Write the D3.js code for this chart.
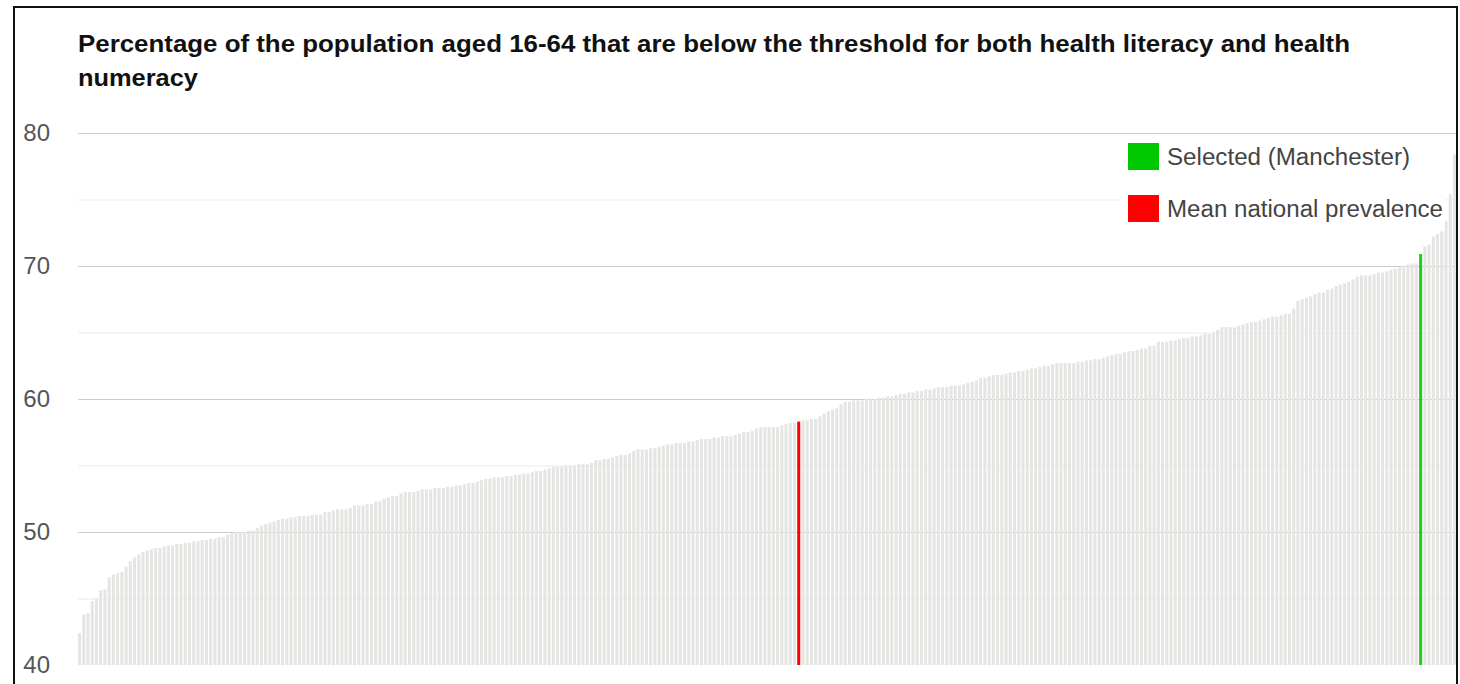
<!DOCTYPE html>
<html>
<head>
<meta charset="utf-8">
<script src="https://cdn.jsdelivr.net/npm/d3@7"></script>
<style>
  body { margin: 0; background: #fff; }
  svg { display: block; }
</style>
</head>
<body>
<div id="chart"></div>
<script>
// Values, sorted ascending (one per local authority)
const barValues = [
  42.4, 43.8, 43.9, 44.8, 45.0, 45.6, 45.7, 46.6, 46.8, 46.9,
  47.0, 47.4, 47.8, 48.1, 48.3, 48.5, 48.6, 48.7, 48.8, 48.8,
  48.9, 49.0, 49.0, 49.1, 49.1, 49.2, 49.2, 49.3, 49.3, 49.4,
  49.4, 49.5, 49.5, 49.6, 49.6, 49.8, 49.9, 50.0, 50.0, 50.0,
  50.1, 50.1, 50.3, 50.5, 50.6, 50.7, 50.8, 50.9, 51.0, 51.0,
  51.1, 51.1, 51.2, 51.2, 51.2, 51.3, 51.3, 51.3, 51.5, 51.5,
  51.6, 51.7, 51.7, 51.7, 51.8, 52.0, 52.0, 52.0, 52.1, 52.1,
  52.3, 52.3, 52.5, 52.6, 52.7, 52.7, 52.9, 53.0, 53.0, 53.0,
  53.1, 53.2, 53.2, 53.2, 53.3, 53.3, 53.3, 53.4, 53.4, 53.5,
  53.5, 53.6, 53.7, 53.7, 53.8, 53.9, 54.0, 54.0, 54.1, 54.1,
  54.1, 54.2, 54.2, 54.3, 54.3, 54.4, 54.4, 54.5, 54.6, 54.6,
  54.7, 54.8, 54.9, 54.9, 54.9, 55.0, 55.0, 55.0, 55.1, 55.1,
  55.1, 55.2, 55.4, 55.4, 55.5, 55.5, 55.6, 55.7, 55.8, 55.8,
  55.9, 56.1, 56.2, 56.2, 56.2, 56.3, 56.3, 56.4, 56.5, 56.6,
  56.6, 56.7, 56.7, 56.7, 56.8, 56.8, 56.9, 57.0, 57.0, 57.0,
  57.1, 57.1, 57.2, 57.2, 57.2, 57.3, 57.4, 57.5, 57.5, 57.6,
  57.8, 57.9, 57.9, 57.9, 57.9, 57.9, 58.0, 58.1, 58.2, 58.2,
  58.3, 58.4, 58.4, 58.5, 58.5, 58.7, 58.9, 59.1, 59.2, 59.3,
  59.6, 59.8, 59.8, 59.9, 59.9, 59.9, 60.0, 60.0, 60.0, 60.1,
  60.1, 60.2, 60.2, 60.3, 60.4, 60.4, 60.5, 60.5, 60.6, 60.6,
  60.7, 60.7, 60.8, 60.9, 60.9, 60.9, 61.0, 61.0, 61.0, 61.1,
  61.2, 61.3, 61.4, 61.6, 61.6, 61.7, 61.8, 61.8, 61.8, 61.9,
  62.0, 62.0, 62.1, 62.1, 62.2, 62.3, 62.3, 62.4, 62.5, 62.5,
  62.6, 62.7, 62.7, 62.7, 62.7, 62.7, 62.8, 62.8, 62.9, 62.9,
  63.0, 63.0, 63.1, 63.2, 63.3, 63.4, 63.4, 63.5, 63.6, 63.6,
  63.7, 63.8, 63.8, 64.0, 64.0, 64.3, 64.3, 64.3, 64.4, 64.4,
  64.5, 64.6, 64.6, 64.7, 64.7, 64.8, 64.9, 64.9, 65.0, 65.2,
  65.4, 65.4, 65.4, 65.4, 65.5, 65.6, 65.7, 65.8, 65.8, 65.9,
  66.0, 66.1, 66.2, 66.2, 66.3, 66.4, 66.4, 66.8, 67.4, 67.5,
  67.6, 67.7, 67.9, 68.0, 68.0, 68.2, 68.3, 68.5, 68.6, 68.7,
  68.8, 69.0, 69.2, 69.3, 69.3, 69.3, 69.4, 69.5, 69.5, 69.6,
  69.7, 69.8, 69.9, 70.0, 70.1, 70.2, 70.2, 70.9, 71.5, 71.6,
  72.2, 72.4, 72.6, 73.4, 75.4, 78.4
];

// Position of the highlighted bars in the sorted list
const meanIndex = 170;       // mean national prevalence
const selectedIndex = 317;   // Manchester

const majorTicks = [40, 50, 60, 70, 80];
const minorTicks = [45, 55, 65, 75];

const legendItems = [
  { label: "Selected (Manchester)", color: "#00c800", textWidth: 243 },
  { label: "Mean national prevalence", color: "#ff0000", textWidth: 276 }
];

const titleLines = [
  { text: "Percentage of the population aged 16-64 that are below the threshold for both health literacy and health", textWidth: 1272 },
  { text: "numeracy", textWidth: 120 }
];

const width = 1460, height = 684;
const plot = { left: 78, right: 1456, top: 133, bottom: 665 };

const svg = d3.select("#chart").append("svg")
  .attr("width", width)
  .attr("height", height);

// outer frame
svg.append("rect")
  .attr("x", 14).attr("y", 7)
  .attr("width", 1443).attr("height", 720)
  .attr("fill", "none")
  .attr("stroke", "#111")
  .attr("stroke-width", 2);

// title
svg.append("g").selectAll("text")
  .data(titleLines)
  .join("text")
  .attr("x", 78)
  .attr("y", (d, i) => 52 + i * 34)
  .attr("fill", "#111")
  .attr("textLength", d => d.textWidth)
  .attr("lengthAdjust", "spacingAndGlyphs")
  .style("font-family", "'Liberation Sans', Arial, sans-serif")
  .style("font-size", "23px")
  .style("font-weight", "bold")
  .text(d => d.text);

const y = d3.scaleLinear()
  .domain([40, 80])
  .range([plot.bottom, plot.top]);

const x = d3.scaleBand()
  .domain(d3.range(barValues.length))
  .range([plot.left, plot.right])
  .paddingInner(0.28)
  .paddingOuter(0);

// minor grid
svg.append("g")
  .attr("transform", `translate(${plot.left},0)`)
  .call(d3.axisLeft(y).tickValues(minorTicks).tickSize(-(plot.right - plot.left)).tickFormat(""))
  .call(g => g.select(".domain").remove())
  .selectAll("line")
  .attr("stroke", "#ebebeb");

// major grid
svg.append("g")
  .attr("transform", `translate(${plot.left},0)`)
  .call(d3.axisLeft(y).tickValues(majorTicks.filter(d => d > 40)).tickSize(-(plot.right - plot.left)).tickFormat(""))
  .call(g => g.select(".domain").remove())
  .selectAll("line")
  .attr("stroke", "#cccccc");

// y labels
const yAxis = svg.append("g")
  .attr("transform", `translate(${plot.left},0)`)
  .call(d3.axisLeft(y).tickValues(majorTicks).tickSize(0).tickPadding(28).tickFormat(d3.format("d")));
yAxis.select(".domain").remove();
yAxis.selectAll("text")
  .attr("fill", "#555")
  .style("font-family", "'Liberation Sans', Arial, sans-serif")
  .style("font-size", "24px");

// bars
svg.append("g").selectAll("rect")
  .data(barValues)
  .join("rect")
  .attr("x", (d, i) => x(i))
  .attr("width", x.bandwidth())
  .attr("y", d => y(d))
  .attr("height", d => y(40) - y(d))
  .attr("fill", (d, i) => i === meanIndex ? "#ff0000" : i === selectedIndex ? "#22cc22" : "#e5e5e3");

// legend
const legend = svg.append("g").attr("transform", "translate(1120,137)");
legend.append("rect")
  .attr("x", 0).attr("y", 0)
  .attr("width", 325).attr("height", 94)
  .attr("fill", "#fff");

const item = legend.selectAll(".item")
  .data(legendItems)
  .join("g")
  .attr("class", "item")
  .attr("transform", (d, i) => `translate(8,${6 + i * 52})`);

item.append("rect")
  .attr("width", 31).attr("height", 27)
  .attr("fill", d => d.color);

item.append("text")
  .attr("x", 39)
  .attr("y", 14)
  .attr("dy", "0.35em")
  .attr("fill", "#444")
  .attr("textLength", d => d.textWidth)
  .attr("lengthAdjust", "spacingAndGlyphs")
  .style("font-family", "'Liberation Sans', Arial, sans-serif")
  .style("font-size", "23px")
  .text(d => d.label);
</script>
</body>
</html>
